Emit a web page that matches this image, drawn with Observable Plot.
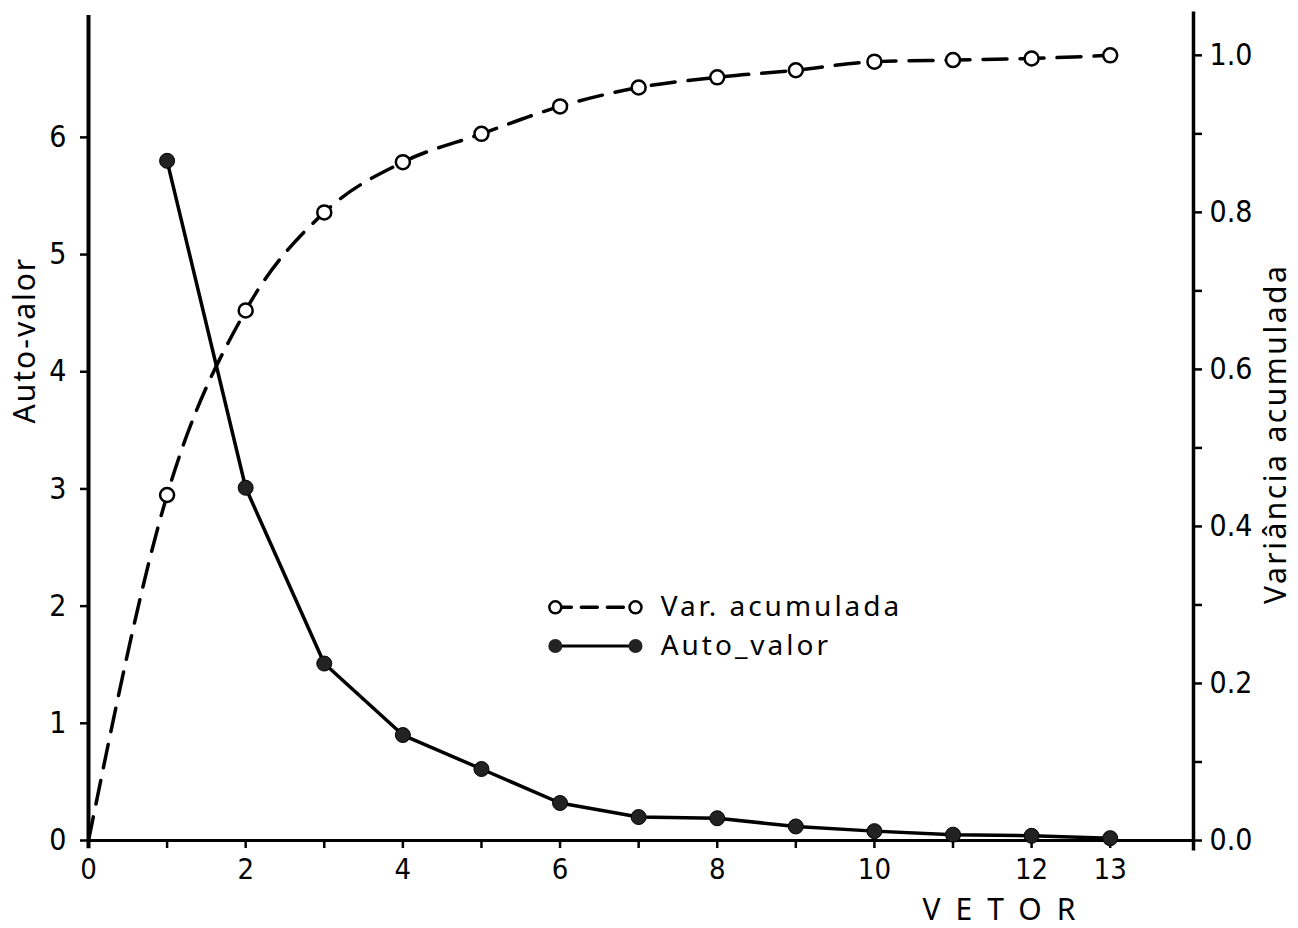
<!DOCTYPE html>
<html><head><meta charset="utf-8">
<script src="https://cdn.jsdelivr.net/npm/d3@7"></script>
<script src="https://cdn.jsdelivr.net/npm/@observablehq/plot@0.6"></script>
<style>body{margin:0;background:#fff}</style>
</head><body><div id="chart"></div>
<script>
// ---- data ----
const vetor = [1,2,3,4,5,6,7,8,9,10,11,12,13];
const autoValor = [5.80,3.01,1.51,0.90,0.61,0.32,0.20,0.19,0.12,0.08,0.05,0.04,0.02];
const varVetor = [0,1,2,3,4,5,6,7,8,9,10,11,12,13];
const varAcumulada = [0,0.44,0.675,0.80,0.864,0.90,0.935,0.959,0.972,0.981,0.992,0.994,0.996,1.0];
const xTicks = [0,1,2,3,4,5,6,7,8,9,10,11,12,13];
const xTickLabels = [0,2,4,6,8,10,12,13];
const leftTicks = [0,1,2,3,4,5,6];
const rightTicks = [0,0.1,0.2,0.3,0.4,0.5,0.6,0.7,0.8,0.9,1.0];
const legendLabels = ["Var. acumulada","Auto_valor"];

// ---- layout constants ----
const XMAX = 14.06, YMAX = 7.04;
const K = 6.70; // left-axis units corresponding to 1.0 on the right axis
const FONT = "Noto Sans";
const TICKFONT = "'Liberation Sans Narrow', 'DejaVu Sans Condensed', 'Roboto Condensed', Roboto, sans-serif";

const autoData = vetor.map((x,i)=>({x, y:autoValor[i]}));
const varData = varVetor.map((x,i)=>({x, y:varAcumulada[i]*K}));
const legX = [5.94, 6.96], legTextX = 7.28, legY = [1.99, 1.66];

const chart = Plot.plot({
  width:1298, height:928,
  marginLeft:88, marginRight:105, marginTop:15, marginBottom:88,
  style:{fontFamily:FONT, background:"white", color:"black"},
  x:{domain:[0,XMAX], axis:null},
  y:{domain:[0,YMAX], axis:null},
  marks:[
    Plot.axisY({anchor:"left", ticks:leftTicks, tickSize:8, tickPadding:14, strokeWidth:2.5,
      tickFormat:d=>String(d), fontSize:30, fontFamily:TICKFONT, label:null}),
    Plot.axisY({anchor:"right", ticks:rightTicks.map(v=>v*K), tickSize:8, tickPadding:8, strokeWidth:2.5,
      tickFormat:d=>{const v=Math.round(d/K*10); return v%2===0 ? (v/10).toFixed(1) : "";},
      fontSize:30, fontFamily:TICKFONT, label:null}),
    Plot.axisX({ticks:xTicks, tickSize:8, tickPadding:10, strokeWidth:2.5,
      tickFormat:d=>xTickLabels.includes(d)?String(d):"", fontSize:29, fontFamily:TICKFONT, label:null}),
    Plot.ruleX([0], {y1:-0.07, y2:YMAX, strokeWidth:4}),
    Plot.ruleX([XMAX], {y1:-0.09, y2:YMAX+0.03, strokeWidth:3.5}),
    Plot.ruleY([0], {x1:0, x2:XMAX, strokeWidth:3}),
    // series
    Plot.line(varData, {x:"x", y:"y", curve:"monotone-x", strokeWidth:3.5, strokeDasharray:"24,13"}),
    Plot.line(autoData, {x:"x", y:"y", strokeWidth:3.5}),
    Plot.dot(varData.filter(d=>d.x>0), {x:"x", y:"y", r:7, fill:"white", stroke:"black", strokeWidth:2.5}),
    Plot.dot(autoData, {x:"x", y:"y", r:7.5, fill:"#222", stroke:"black", strokeWidth:1}),
    // legend
    Plot.line(legX.map(x=>({x, y:legY[0]})), {x:"x", y:"y", strokeWidth:3.5, strokeDasharray:"16,10"}),
    Plot.dot(legX.map(x=>({x, y:legY[0]})), {x:"x", y:"y", r:6, fill:"white", stroke:"black", strokeWidth:2.5}),
    Plot.line(legX.map(x=>({x, y:legY[1]})), {x:"x", y:"y", strokeWidth:3}),
    Plot.dot(legX.map(x=>({x, y:legY[1]})), {x:"x", y:"y", r:7, fill:"#222"}),
    Plot.text(legendLabels.map((t,i)=>({t, y:legY[i]})), {x:()=>legTextX, y:"y", text:"t", textAnchor:"start", fontSize:28}),
    // axis titles
    Plot.text(["Auto-valor"], {x:()=>0, y:()=>4.27, dx:-63, rotate:-90, fontSize:30}),
    Plot.text(["Variância acumulada"], {x:()=>XMAX, y:()=>3.47, dx:83, rotate:-90, fontSize:30}),
    Plot.text(["VETOR"], {x:()=>11.68, y:()=>0, dy:70, fontSize:30})
  ]
});
const sp = {"VETOR":"15px","Var. acumulada":"3px","Auto_valor":"3px","Auto-valor":"2px","Variância acumulada":"2.5px"};
d3.select(chart).selectAll("text").each(function(){
  const t = this.textContent;
  if (sp[t]) d3.select(this).attr("letter-spacing", sp[t]);
});
document.getElementById("chart").appendChild(chart);
</script>
</body></html>
